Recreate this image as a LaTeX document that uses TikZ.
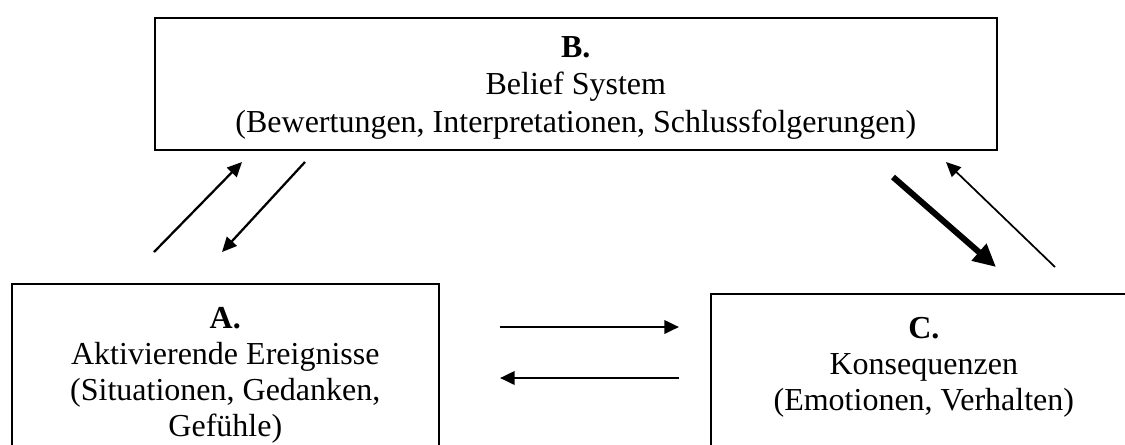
\documentclass[tikz,border=0pt]{standalone}
\usepackage{fontspec}
\setmainfont{Liberation Serif}
\usetikzlibrary{arrows.meta,positioning}
\begin{document}
\begin{tikzpicture}[x=0.75pt,y=-0.75pt,
    frame/.style={draw,line width=1.2pt,anchor=north west,inner sep=0pt},
    txt/.style={align=center,inner sep=0pt,font=\fontsize{24}{27}\selectfont},
    thin/.style={line width=1.7pt,-{Triangle[length=11pt,width=10pt]}},
    heavy/.style={line width=4.5pt,-{Triangle[length=17pt,width=16pt]}}]
  \useasboundingbox (0,0) rectangle (1125,444);
  \clip (0,0) rectangle (1125,444);
  \node [frame,minimum width=842*0.75pt,minimum height=132*0.75pt] (B) at (154,17) {};
  \node [frame,minimum width=427*0.75pt,minimum height=200*0.75pt] (A) at (11,283) {};
  \node [frame,minimum width=500*0.75pt,minimum height=200*0.75pt] (C) at (710,293) {};
  \node [txt,font=\fontsize{24}{28}\selectfont,anchor=north,below=14.5pt of B.north] (Btext)
    {\textbf{B.}\\Belief System\\(Bewertungen, Interpretationen, Schlussfolgerungen)};
  \node [txt,anchor=north,below=18pt of A.north] (Atext)
    {\textbf{A.}\\Aktivierende Ereignisse\\(Situationen, Gedanken,\\Gef\"uhle)};
  \node [txt,anchor=north,below=18pt of C.north,xshift=-37*0.75pt] (Ctext)
    {\textbf{C.}\\Konsequenzen\\(Emotionen, Verhalten)};
  % arrow ends
  \coordinate (ab1) at (154,252); \coordinate (ab2) at (242,162);
  \coordinate (ba1) at (305,162); \coordinate (ba2) at (222,252);
  \coordinate (bc1) at (893,177); \coordinate (bc2) at (996,267);
  \coordinate (cb1) at (1055,267); \coordinate (cb2) at (946,162);
  \coordinate (ac1) at (500,327); \coordinate (ac2) at (679,327);
  \coordinate (ca1) at (679,378); \coordinate (ca2) at (500,378);
  \draw [thin] (ab1) -- (ab2);
  \draw [thin] (ba1) -- (ba2);
  \draw [heavy] (bc1) -- (bc2);
  \draw [thin,line width=1.3pt] (cb1) -- (cb2);
  \draw [thin,line width=2pt] (ac1) -- (ac2);
  \draw [thin,line width=2pt] (ca1) -- (ca2);
\end{tikzpicture}
\end{document}
